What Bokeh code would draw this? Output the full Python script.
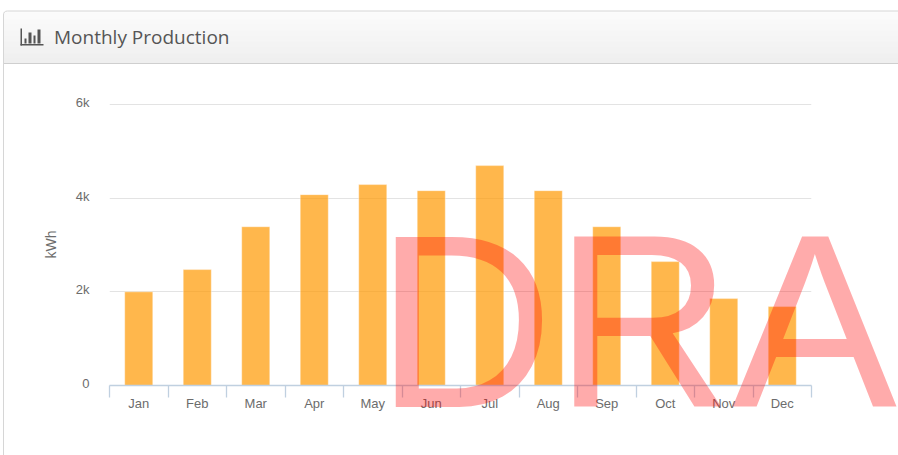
from bokeh.plotting import figure
from bokeh.models import BoxAnnotation, Label, FixedTicker, LinearAxis, Grid
from bokeh.embed import file_html
from bokeh.resources import INLINE
import math

months = ["Jan", "Feb", "Mar", "Apr", "May", "Jun", "Jul", "Aug", "Sep", "Oct", "Nov", "Dec"]
production = [2000, 2475, 3390, 4075, 4290, 4160, 4695, 4160, 3390, 2645, 1855, 1685]
y_ticks = [0, 2000, 4000, 6000]
y_labels = ["0", "2k", "4k", "6k"]

W, H = 898, 455
ABS = {"position": "absolute", "left": "0", "top": "0"}
LABEL_NUDGE = 45  # the reference sets its value labels about 2px above the grid lines
TEXT = "#6c6c6c"

# ---- chart ----
p = figure(width=W, height=H, output_backend="svg", toolbar_location=None,
           x_range=(0, 12), y_range=(0, 6192), x_axis_type=None, y_axis_type=None,
           min_border_left=109, min_border_right=87, min_border_top=95, min_border_bottom=70)
p.outline_line_color = None
p.background_fill_color = "white"
p.border_fill_color = "white"
p.styles = ABS

label_ticks = [t + LABEL_NUDGE for t in y_ticks]
yaxis = LinearAxis(ticker=FixedTicker(ticks=label_ticks),
                   major_label_overrides=dict(zip(label_ticks, y_labels)),
                   axis_line_color=None, major_tick_line_color=None, minor_tick_line_color=None,
                   major_label_standoff=14, major_label_text_font="Liberation Sans",
                   major_label_text_font_size="13px", major_label_text_color=TEXT)
p.add_layout(yaxis, "left")

centers = [i + 0.5 for i in range(len(months))]
edges = list(range(len(months) + 1))
xaxis = LinearAxis(ticker=FixedTicker(ticks=centers, minor_ticks=edges),
                   major_label_overrides=dict(zip(centers, months)),
                   axis_line_color="#C0D0E0", axis_line_width=1.3,
                   major_tick_line_color=None,
                   minor_tick_line_color="#C0D0E0", minor_tick_line_width=1.3,
                   minor_tick_out=12, minor_tick_in=0,
                   major_label_standoff=-2, major_label_text_font="Liberation Sans",
                   major_label_text_font_size="13px", major_label_text_color=TEXT)
p.add_layout(xaxis, "below")
p.add_layout(Grid(dimension=1, ticker=FixedTicker(ticks=y_ticks),
                  grid_line_color="#e3e3e3", grid_line_width=1))

p.vbar(x=centers, top=production, bottom=0, width=0.48,
       fill_color="#ff9900", fill_alpha=0.7, line_color="#ffffff", line_alpha=0.4, line_width=1)

# ---- page overlay: panel, header, watermark, in pixel coordinates ----
o = figure(width=W, height=H, output_backend="svg", toolbar_location=None,
           x_range=(0, W), y_range=(H + 1, 1), x_axis_type=None, y_axis_type=None,
           min_border=0)
o.outline_line_color = None
o.background_fill_alpha = 0
o.border_fill_alpha = 0
o.styles = ABS
o.grid.visible = False

def box(l, r, t, b, color, line=None, radius=0):
    o.add_layout(BoxAnnotation(left=l, right=r, top=t, bottom=b,
                               fill_color=color, fill_alpha=1.0 if color else 0.0,
                               line_color=line, line_alpha=1.0 if line else 0.0,
                               border_radius=radius, editable=False))

c0, c1 = (251, 251, 251), (233, 233, 233)
for yy in range(12, 64):
    f = (yy - 12) / 51
    col = "#%02x%02x%02x" % tuple(round(a + (b - a) * f) for a, b in zip(c0, c1))
    box(3, 900, yy, yy + 1, col)
box(3, 900, 63.5, 64.5, "#cfcfcf")
box(3, 905, 11.5, 480, None, "#d6d6d6", radius=4)

for l, r, t, b in [(20, 21.5, 29, 46), (20, 43, 44.5, 46), (24, 26, 39, 44),
                   (28, 31, 33, 44), (33, 35, 36, 44), (37, 40, 30, 44)]:
    box(l, r, t, b, "#555555")

o.add_layout(Label(x=53.5, y=37, text="Monthly Production",
                   text_font="Open Sans", text_font_size="19px", text_color="#555555",
                   text_baseline="middle", text_align="left"))
o.add_layout(Label(x=50.5, y=245, text="kWh", angle=math.pi / 2, angle_units="rad",
                   text_font="Liberation Sans", text_font_size="14px", text_color=TEXT,
                   text_baseline="middle", text_align="center"))
o.add_layout(Label(x=375, y=321, text="DRA",
                   text_font="Liberation Sans", text_font_size="247px", text_color="#ff0000",
                   text_alpha=0.33, text_baseline="alphabetic", text_align="left"))

open("out.html", "w").write(file_html([p, o], INLINE))
